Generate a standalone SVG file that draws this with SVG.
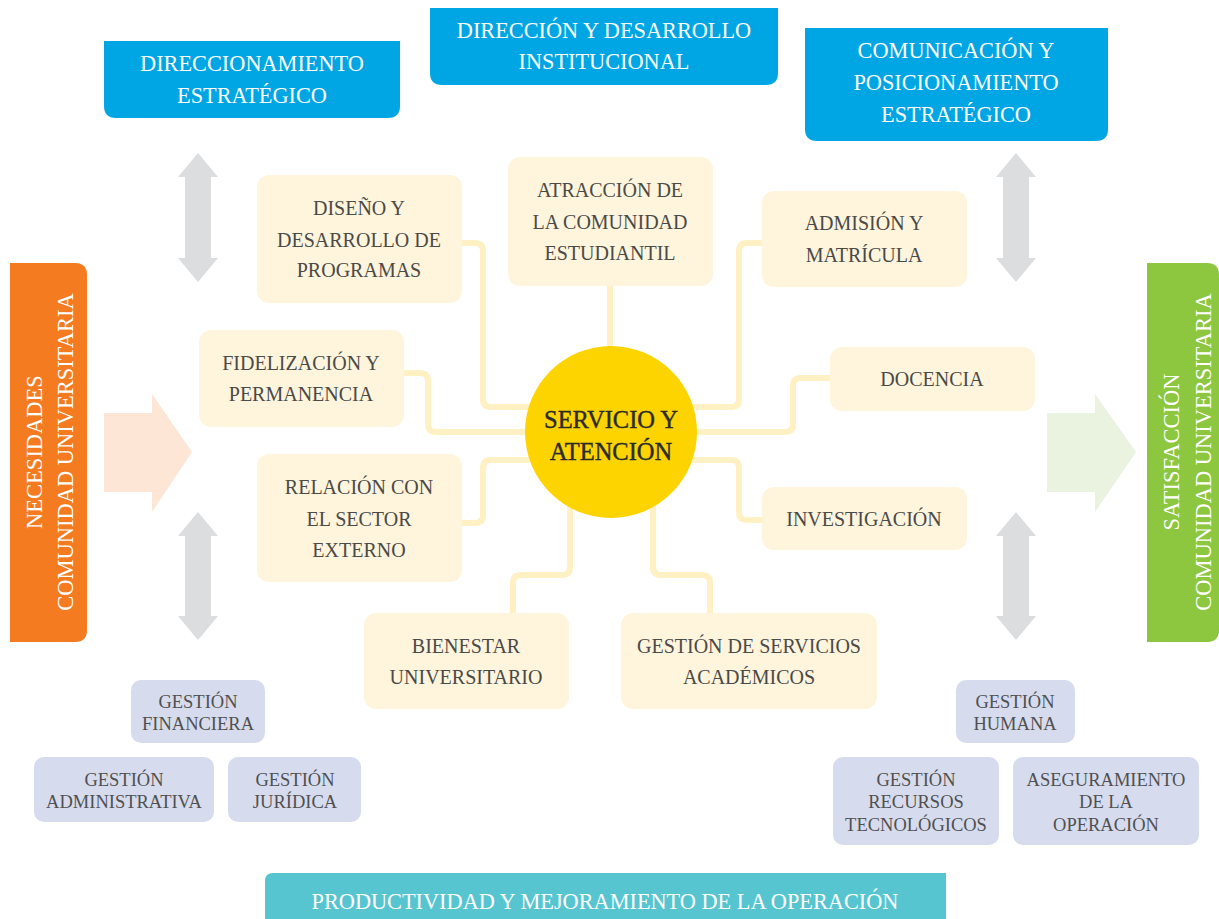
<svg xmlns="http://www.w3.org/2000/svg" width="1219" height="919" viewBox="0 0 1219 919">
<style>
text{font-family:"Liberation Serif","Times New Roman",serif;text-anchor:middle}
.w{fill:#ffffff;font-size:22.3px}
.y{fill:#4a4a48;font-size:20px}
.p{fill:#505050;font-size:18.5px}
.c{fill:#2b2b2b;font-size:24.5px;stroke:#2b2b2b;stroke-width:0.4}
.v{fill:#ffffff;font-size:22.5px}
.yb{fill:#FFF5DC}
.pb{fill:#D6DCEE}
.bl{fill:#00A6E3}
.ga{fill:#DCDDDF}
.cn{fill:none;stroke:#FFF1C4;stroke-width:6}
</style>
<rect width="1219" height="919" fill="#ffffff"/>

<g id="connectors">
<path class="cn" d="M462,243 H475 Q483,243 483,251 V399 Q483,407 491,407 H560"/>
<path class="cn" d="M610,286 V360"/>
<path class="cn" d="M762,243 H747 Q739,243 739,251 V399 Q739,407 731,407 H660"/>
<path class="cn" d="M404,373 H420 Q428,373 428,381 V424 Q428,432 436,432 H560"/>
<path class="cn" d="M830,378 H801 Q793,378 793,386 V424 Q793,432 785,432 H660"/>
<path class="cn" d="M462,523 H475 Q483,523 483,515 V468 Q483,460 491,460 H560"/>
<path class="cn" d="M762,520 H747 Q739,520 739,512 V468 Q739,460 731,460 H660"/>
<path class="cn" d="M570,480 V567 Q570,575 562,575 H521 Q513,575 513,583 V613"/>
<path class="cn" d="M653,480 V567 Q653,575 661,575 H702 Q710,575 710,583 V613"/>
</g>

<g id="arrows">
<path class="ga" d="M198,153 L218,177 L211,177 L211,258 L218,258 L198,282 L178,258 L185,258 L185,177 L178,177 Z"/>
<path class="ga" d="M198,512 L218,536 L211,536 L211,616 L218,616 L198,640 L178,616 L185,616 L185,536 L178,536 Z"/>
<path class="ga" d="M1016,153 L1036,177 L1029,177 L1029,258 L1036,258 L1016,282 L996,258 L1003,258 L1003,177 L996,177 Z"/>
<path class="ga" d="M1016,512 L1036,536 L1029,536 L1029,616 L1036,616 L1016,640 L996,616 L1003,616 L1003,536 L996,536 Z"/>
<path fill="#FDE6D6" d="M104,413 H152 V394 L192,452 L152,512 V492 H104 Z"/>
<path fill="#EAF3E0" d="M1047,413 H1095 V394 L1136,452 L1095,512 V492 H1047 Z"/>
</g>

<g id="direccionamiento">
<path class="bl" d="M104,41 H400 V106 Q400,118 388,118 H116 Q104,118 104,106 Z"/>
<text class="w" x="252" y="70.5">DIRECCIONAMIENTO</text>
<text class="w" x="252" y="102.5">ESTRATÉGICO</text>
</g>
<g id="direccion">
<path class="bl" d="M430,8 H778 V73 Q778,85 766,85 H442 Q430,85 430,73 Z"/>
<text class="w" x="604" y="37.5">DIRECCIÓN Y DESARROLLO</text>
<text class="w" x="604" y="68.5">INSTITUCIONAL</text>
</g>
<g id="comunicacion">
<path class="bl" d="M805,28 H1108 V129 Q1108,141 1096,141 H817 Q805,141 805,129 Z"/>
<text class="w" x="956" y="57.5">COMUNICACIÓN Y</text>
<text class="w" x="956" y="89.5">POSICIONAMIENTO</text>
<text class="w" x="956" y="121.5">ESTRATÉGICO</text>
</g>

<g id="necesidades">
<path fill="#F47B20" d="M10,263 H75 Q87,263 87,275 V630 Q87,642 75,642 H10 Z"/>
<text class="v" transform="translate(41.5,452) rotate(-90)">NECESIDADES</text>
<text class="v" transform="translate(72.5,452) rotate(-90)">COMUNIDAD UNIVERSITARIA</text>
</g>
<g id="satisfaccion">
<path fill="#8DC63F" d="M1147,263 H1207 Q1219,263 1219,275 V630 Q1219,642 1207,642 H1147 Z"/>
<text class="v" transform="translate(1178.5,452) rotate(-90)">SATISFACCIÓN</text>
<text class="v" transform="translate(1210.5,452) rotate(-90)">COMUNIDAD UNIVERSITARIA</text>
</g>

<g id="diseno">
<rect class="yb" x="257" y="175" width="205" height="128" rx="12"/>
<text class="y" x="359" y="215">DISEÑO Y</text>
<text class="y" x="359" y="247">DESARROLLO DE</text>
<text class="y" x="359" y="277">PROGRAMAS</text>
</g>
<g id="atraccion">
<rect class="yb" x="508" y="157" width="205" height="129" rx="12"/>
<text class="y" x="610" y="197">ATRACCIÓN DE</text>
<text class="y" x="610" y="229">LA COMUNIDAD</text>
<text class="y" x="610" y="260">ESTUDIANTIL</text>
</g>
<g id="admision">
<rect class="yb" x="762" y="191" width="205" height="96" rx="12"/>
<text class="y" x="864" y="230">ADMISIÓN Y</text>
<text class="y" x="864" y="262">MATRÍCULA</text>
</g>
<g id="fidelizacion">
<rect class="yb" x="199" y="330" width="205" height="97" rx="12"/>
<text class="y" x="301" y="370">FIDELIZACIÓN Y</text>
<text class="y" x="301" y="401">PERMANENCIA</text>
</g>
<g id="docencia">
<rect class="yb" x="830" y="347" width="205" height="64" rx="12"/>
<text class="y" x="932" y="386">DOCENCIA</text>
</g>
<g id="relacion">
<rect class="yb" x="257" y="454" width="205" height="128" rx="12"/>
<text class="y" x="359" y="494">RELACIÓN CON</text>
<text class="y" x="359" y="526">EL SECTOR</text>
<text class="y" x="359" y="557">EXTERNO</text>
</g>
<g id="investigacion">
<rect class="yb" x="762" y="487" width="205" height="63" rx="12"/>
<text class="y" x="864" y="526">INVESTIGACIÓN</text>
</g>
<g id="bienestar">
<rect class="yb" x="364" y="613" width="205" height="96" rx="12"/>
<text class="y" x="466" y="653">BIENESTAR</text>
<text class="y" x="466" y="684">UNIVERSITARIO</text>
</g>
<g id="servicios-academicos">
<rect class="yb" x="621" y="613" width="256" height="96" rx="12"/>
<text class="y" x="749" y="653">GESTIÓN DE SERVICIOS</text>
<text class="y" x="749" y="684">ACADÉMICOS</text>
</g>

<g id="servicio">
<circle cx="611" cy="432" r="86" fill="#FDD300"/>
<text class="c" x="611" y="427.5">SERVICIO Y</text>
<text class="c" x="611" y="459.5">ATENCIÓN</text>
</g>

<g id="financiera">
<rect class="pb" x="131" y="680" width="134" height="63" rx="10"/>
<text class="p" x="198" y="707.5">GESTIÓN</text>
<text class="p" x="198" y="729.5">FINANCIERA</text>
</g>
<g id="administrativa">
<rect class="pb" x="34" y="757" width="180" height="65" rx="10"/>
<text class="p" x="124" y="785.5">GESTIÓN</text>
<text class="p" x="124" y="807.5">ADMINISTRATIVA</text>
</g>
<g id="juridica">
<rect class="pb" x="228" y="757" width="133" height="65" rx="10"/>
<text class="p" x="295" y="785.5">GESTIÓN</text>
<text class="p" x="295" y="807.5">JURÍDICA</text>
</g>
<g id="humana">
<rect class="pb" x="956" y="680" width="119" height="63" rx="10"/>
<text class="p" x="1015" y="707.5">GESTIÓN</text>
<text class="p" x="1015" y="729.5">HUMANA</text>
</g>
<g id="tecnologicos">
<rect class="pb" x="833" y="757" width="166" height="88" rx="10"/>
<text class="p" x="916" y="785.5">GESTIÓN</text>
<text class="p" x="916" y="807.5">RECURSOS</text>
<text class="p" x="916" y="830.5">TECNOLÓGICOS</text>
</g>
<g id="aseguramiento">
<rect class="pb" x="1013" y="757" width="186" height="88" rx="10"/>
<text class="p" x="1106" y="785.5">ASEGURAMIENTO</text>
<text class="p" x="1106" y="807.5">DE LA</text>
<text class="p" x="1106" y="830.5">OPERACIÓN</text>
</g>

<g id="productividad">
<path fill="#56C5D0" d="M265,881 Q265,873 273,873 H946 V919 H265 Z"/>
<text class="w" x="605" y="909">PRODUCTIVIDAD Y MEJORAMIENTO DE LA OPERACIÓN</text>
</g>
</svg>
